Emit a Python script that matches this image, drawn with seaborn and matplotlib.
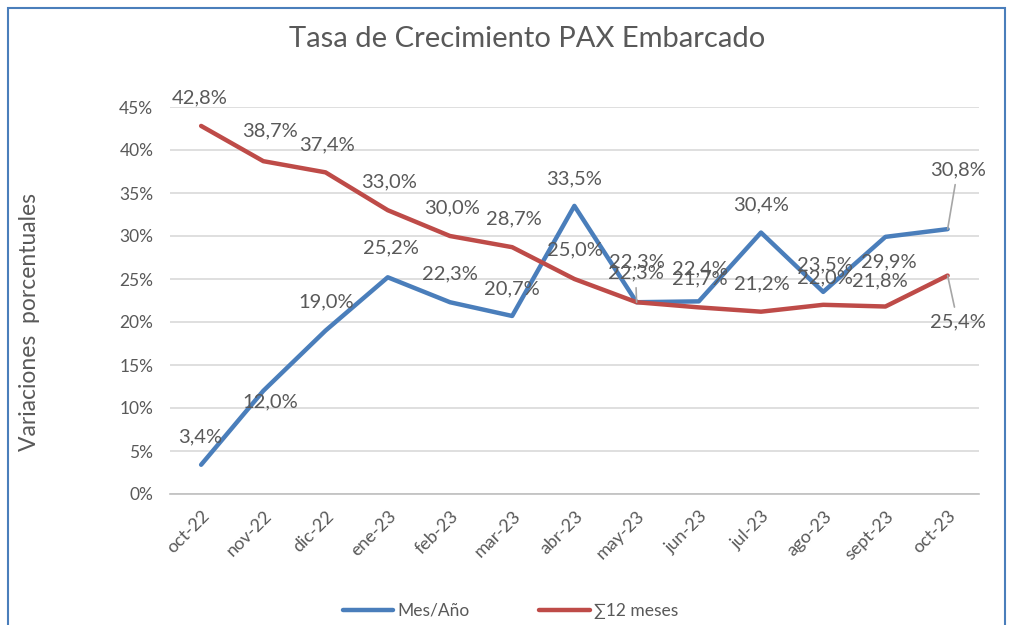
import matplotlib
matplotlib.use("Agg")
import matplotlib.pyplot as plt
import seaborn as sns
import pandas as pd
import numpy as np
from matplotlib.patches import Rectangle
from matplotlib.lines import Line2D

months = ["oct-22", "nov-22", "dic-22", "ene-23", "feb-23", "mar-23", "abr-23",
          "may-23", "jun-23", "jul-23", "ago-23", "sept-23", "oct-23"]
mes_anio = [3.4, 12.0, 19.0, 25.2, 22.3, 20.7, 33.5, 22.3, 22.4, 30.4, 23.5, 29.9, 30.8]
doce_meses = [42.8, 38.7, 37.4, 33.0, 30.0, 28.7, 25.0, 22.3, 21.7, 21.2, 22.0, 21.8, 25.4]
series_names = ["Mes/Año", "∑12 meses"]

# label offsets in pixels (styling)
blue_off = [(-1, 28), (7, -11), (1, 29), (3, 29), (0, 28), (0, 27), (0, 27),
            (0, 40), (1, 32), (0, 28), (2, 27), (3, -25), (10, 59)]
red_off = [(-1, 28), (7, 30), (1, 27), (1, 28), (2, 28), (2, 28), (1, 29),
           (-1, 29), (1, 29), (1, 28), (2, 27), (-6, 26), (10, -46)]
blue_leader = {12}
red_leader = {7, 12}

sns.set_theme(style="white")
plt.rcParams['font.family'] = ['Lato', 'DejaVu Sans']
txt = "#595959"

df = pd.DataFrame({
    "mes": months * 2,
    "valor": mes_anio + doce_meses,
    "serie": [series_names[0]] * len(months) + [series_names[1]] * len(months),
})

fig = plt.figure(figsize=(10.09, 6.25), dpi=100)
ax = fig.add_axes([0.1685, 0.2096, 0.8015, 0.6192])
palette = {series_names[0]: "#4A7EBB", series_names[1]: "#BE4B48"}
sns.lineplot(data=df, x="mes", y="valor", hue="serie", palette=palette,
             linewidth=3.2, ax=ax, sort=False, legend=False)

ax.set_xlim(-0.5, len(months) - 0.5)
ax.set_ylim(0, 45)
ax.set_yticks(np.arange(0, 46, 5))
ax.set_yticklabels([f"{v}%" for v in range(0, 46, 5)], color=txt, fontsize=12.5)
ax.set_xticks(range(len(months)))
ax.set_xticklabels(months, rotation=45, ha="right", rotation_mode="anchor",
                   color=txt, fontsize=13)
ax.tick_params(axis="x", which="major", length=0, pad=10)
ax.tick_params(axis="y", length=0, pad=12)
ax.set_xticks(np.arange(-0.5, len(months), 1), minor=True)
ax.tick_params(axis="x", which="minor", length=6, color="#BFBFBF", width=1.2, direction="out")
ax.grid(axis="y", color="#D9D9D9", linewidth=1.2)
ax.set_axisbelow(True)
for s in ["top", "right", "left"]:
    ax.spines[s].set_visible(False)
ax.spines["bottom"].set_color("#BFBFBF")
ax.spines["bottom"].set_linewidth(1.2)
ax.set_xlabel("")
ax.set_ylabel("Variaciones  porcentuales", color=txt, fontsize=16.5)
ax.yaxis.set_label_coords(-0.161, 0.445)

def label(vals, offs, leaders):
    for i, (v, o) in enumerate(zip(vals, offs)):
        s = f"{v:.1f}%".replace(".", ",")
        kw = {}
        if i in leaders:
            kw["arrowprops"] = dict(arrowstyle="-", color="#A6A6A6", lw=1.2,
                                    shrinkA=2, shrinkB=0)
        ax.annotate(s, xy=(i, v), xytext=o, textcoords="offset pixels",
                    ha="center", va="center", color=txt, fontsize=14.5, **kw)

label(mes_anio, blue_off, blue_leader)
label(doce_meses, red_off, red_leader)

fig.text(0.522, 0.937, "Tasa de Crecimiento PAX Embarcado", ha="center", va="center",
         color=txt, fontsize=21)

handles = [Line2D([], [], color=palette[n], lw=3.2, solid_capstyle="round") for n in series_names]
fig.legend(handles, series_names, loc="center", bbox_to_anchor=(0.506, 0.023), ncol=2,
           frameon=False, fontsize=12.5, labelcolor=txt, handlelength=2.9,
           handletextpad=0.25, columnspacing=4.0)

fig.patches.append(Rectangle((0.008, -0.05), 0.988, 1.037, transform=fig.transFigure,
                             fill=False, edgecolor="#4A7EBB", linewidth=1.5))

fig.savefig("out.png", dpi=100)
